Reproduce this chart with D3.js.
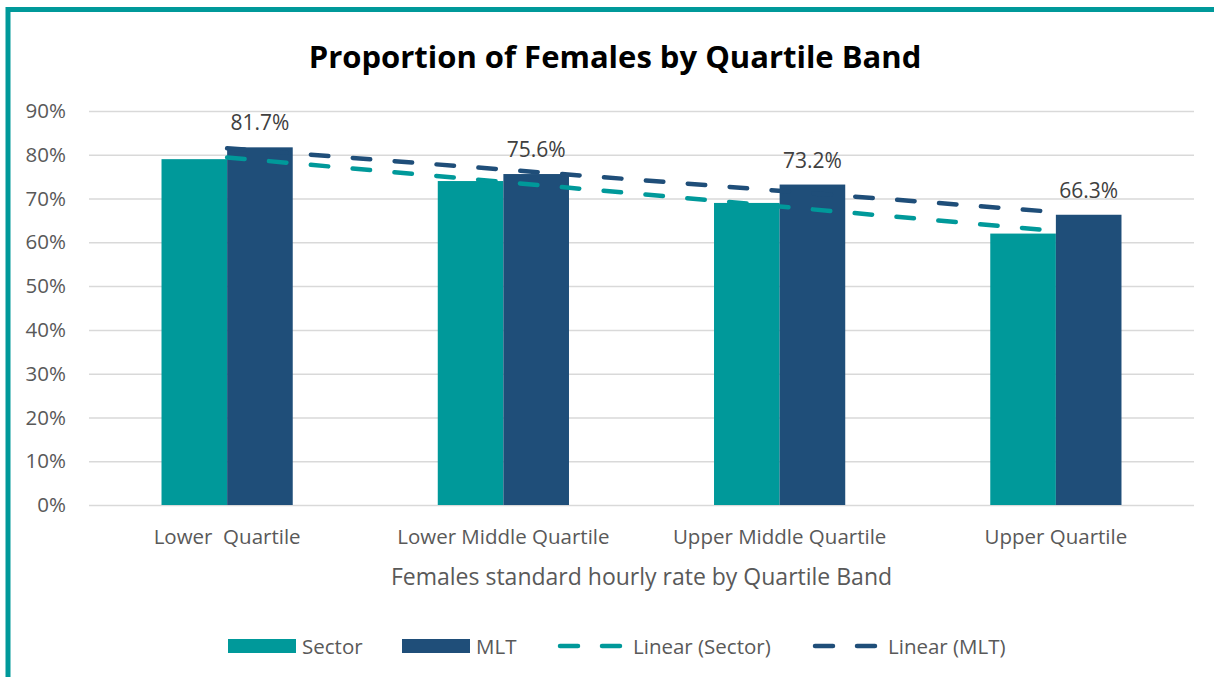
<!DOCTYPE html>
<html>
<head>
<meta charset="utf-8">
<script src="https://cdn.jsdelivr.net/npm/d3@7"></script>
<style>
  body { margin: 0; background: #fff; }
  svg { display: block; font-family: "Open Sans", Lato, sans-serif; }
  svg text { font-family: "Open Sans", Lato, sans-serif; }
</style>
</head>
<body>
<main></main>
<script>
const categories = ["Lower  Quartile", "Lower Middle Quartile", "Upper Middle Quartile", "Upper Quartile"];
const seriesNames = ["Sector", "MLT"];
const sectorValues = [79.0, 74.0, 69.0, 62.0];
const mltValues = [81.7, 75.6, 73.2, 66.3];
const yTicks = [0, 10, 20, 30, 40, 50, 60, 70, 80, 90];

const colors = { Sector: "#00999A", MLT: "#1F4E79" };
const W = 1214, H = 677;

const svg = d3.select("main").append("svg")
  .attr("width", W).attr("height", H).attr("viewBox", `0 0 ${W} ${H}`);

// frame (only top and left edge visible)
svg.append("path")
  .attr("d", `M8,${H} L8,9.5 L${W},9.5`)
  .attr("fill", "none")
  .attr("stroke", "#00999A")
  .attr("stroke-width", 5);

const x = d3.scaleBand().domain(categories).range([89, 1194]).paddingInner(0.525).paddingOuter(0.2625);
const xs = d3.scaleBand().domain(seriesNames).range([0, x.bandwidth()]);
const y = d3.scaleLinear().domain([0, 90]).range([505, 111]);

// gridlines + y labels
const yAxis = svg.append("g")
  .attr("transform", "translate(89,0)")
  .call(d3.axisLeft(y).tickValues(yTicks).tickFormat(d => d + "%").tickSize(-(1194 - 89)).tickPadding(23));
yAxis.attr("font-family", null).attr("font-size", null);
yAxis.select(".domain").remove();
yAxis.selectAll(".tick line").attr("stroke", "#D9D9D9").attr("stroke-width", 1.5);
yAxis.selectAll(".tick text").attr("fill", "#595959").style("font-size", "20.5px");

// bars
const data = categories.map((c, i) => ({ cat: c, Sector: sectorValues[i], MLT: mltValues[i] }));
const groups = svg.append("g").selectAll("g").data(data).join("g")
  .attr("transform", d => `translate(${x(d.cat)},0)`);
groups.selectAll("rect")
  .data(d => seriesNames.map(s => ({ s, v: d[s] })))
  .join("rect")
  .attr("x", d => xs(d.s))
  .attr("width", xs.bandwidth())
  .attr("y", d => y(d.v))
  .attr("height", d => y(0) - y(d.v))
  .attr("fill", d => colors[d.s]);

// data labels on MLT
groups.append("text")
  .attr("x", d => xs("MLT") + xs.bandwidth() / 2)
  .attr("y", d => y(d.MLT) - 17)
  .attr("text-anchor", "middle")
  .attr("fill", "#404040")
  .style("font-size", "21px")
  .text(d => d.MLT.toFixed(1) + "%");

// linear trendlines (least squares over category index)
function fit(vals) {
  const xsI = vals.map((_, i) => i + 1);
  const mx = d3.mean(xsI), my = d3.mean(vals);
  const b = d3.sum(xsI, (xi, i) => (xi - mx) * (vals[i] - my)) / d3.sum(xsI, xi => (xi - mx) ** 2);
  return xsI.map(xi => my + b * (xi - mx));
}
const cx = c => x(c) + x.bandwidth() / 2;
const line = d3.line().x(d => cx(d[0])).y(d => y(d[1]));
[["Sector", sectorValues], ["MLT", mltValues]].forEach(([name, vals]) => {
  const t = fit(vals);
  const pts = [[categories[0], t[0]], [categories[3], t[3]]];
  svg.append("path")
    .attr("d", line(pts))
    .attr("fill", "none")
    .attr("stroke", colors[name])
    .attr("stroke-width", 4.5)
    .attr("stroke-linecap", "round")
    .attr("stroke-dasharray", "17.5,24.5");
});

// x category labels
svg.append("g").selectAll("text").data(categories).join("text")
  .attr("x", d => cx(d))
  .attr("y", 544)
  .attr("text-anchor", "middle")
  .attr("fill", "#595959")
  .style("font-size", "20.5px")
  .style("white-space", "pre")
  .attr("xml:space", "preserve")
  .text(d => d);

// axis title
svg.append("text")
  .attr("x", (89 + 1194) / 2)
  .attr("y", 585)
  .attr("text-anchor", "middle")
  .attr("fill", "#595959")
  .style("font-size", "23px")
  .text("Females standard hourly rate by Quartile Band");

// chart title
svg.append("text")
  .attr("x", 615)
  .attr("y", 68)
  .attr("text-anchor", "middle")
  .attr("fill", "#000")
  .style("font-size", "31px")
  .style("font-weight", "bold")
  .text("Proportion of Females by Quartile Band");

// legend
const legendItems = [
  { label: "Sector", type: "rect", color: colors.Sector, x: 228 },
  { label: "MLT", type: "rect", color: colors.MLT, x: 402 },
  { label: "Linear (Sector)", type: "line", color: colors.Sector, x: 558 },
  { label: "Linear (MLT)", type: "line", color: colors.MLT, x: 813 }
];
const lg = svg.append("g").selectAll("g").data(legendItems).join("g")
  .attr("transform", d => `translate(${d.x},646)`);
lg.filter(d => d.type === "rect").append("rect")
  .attr("x", 0).attr("y", -7).attr("width", 68).attr("height", 14)
  .attr("fill", d => d.color);
lg.filter(d => d.type === "line").append("line")
  .attr("x1", 2).attr("x2", 66).attr("y1", 0).attr("y2", 0)
  .attr("stroke", d => d.color)
  .attr("stroke-width", 4.5)
  .attr("stroke-linecap", "round")
  .attr("stroke-dasharray", "18,24");
lg.append("text")
  .attr("x", d => d.type === "rect" ? 74 : 75)
  .attr("y", 7.5)
  .attr("fill", "#595959")
  .style("font-size", "20.5px")
  .text(d => d.label);
</script>
</body>
</html>
